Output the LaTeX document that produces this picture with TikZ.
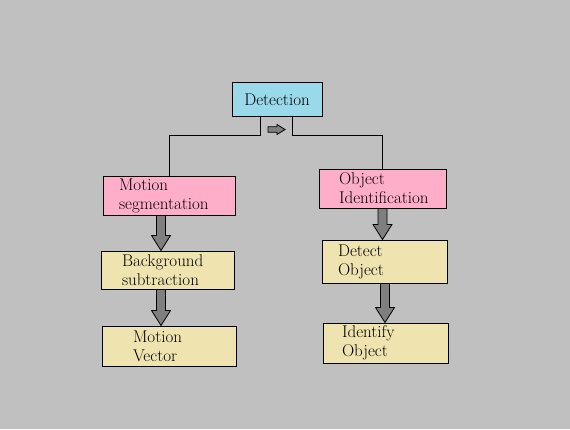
\documentclass[tikz,border=0pt]{standalone}
\usepackage{xcolor}
\usepackage{tikz}
\usetikzlibrary{positioning, calc}
\definecolor{PageGray}{HTML}{C0C0C0}
\definecolor{SkyBlue}{HTML}{99D9EA}
\definecolor{RosePink}{HTML}{FFAEC9}
\definecolor{LightTan}{HTML}{EFE4B0}
\definecolor{ArrowGray}{HTML}{7F7F7F}

\begin{document}
\begin{tikzpicture}[
    x=1pt, y=-1pt,
    font=\fontsize{17}{19}\selectfont,
    top/.style={rectangle, draw=black, fill=SkyBlue, line width=1pt, minimum width=90pt, minimum height=34pt, inner sep=0pt},
    task/.style={rectangle, draw=black, fill=RosePink, line width=1pt, align=left, inner ysep=0pt},
    sub/.style={rectangle, draw=black, fill=LightTan, line width=1pt, align=left, inner ysep=0pt},
    link/.style={draw=black, line width=1pt},
    arrowfill/.style={draw=black, fill=ArrowGray, line width=0.8pt},
    blockarr/.style={arrowfill,
        to path={let \p1=(\tikztostart), \p2=(\tikztotarget) in
            (\x1+#1pt-4.5pt,\y1) -- (\x1+#1pt-4.5pt,\y2+15pt) -- (\x1+#1pt-9.5pt,\y2+15pt) -- (\x1+#1pt,\y2)
            -- (\x1+#1pt+9.5pt,\y2+15pt) -- (\x1+#1pt+4.5pt,\y2+15pt) -- (\x1+#1pt+4.5pt,\y1) -- cycle}},
    blockarr/.default=0
]
    \path[fill=PageGray] (0,0) rectangle (570,429);

    % Top
    \node[top] (det) at (277,99.5) {Detection};

    % Left branch
    \node[task, minimum width=132pt, minimum height=39pt, inner xsep=16pt, text width=100pt] (seg) at (169,195.5) {Motion\\segmentation};
    \node[sub, minimum width=133pt, minimum height=38pt, inner xsep=21pt, text width=91pt] (bgsub) at (167.5,270) {Background\\subtraction};
    \node[sub, minimum width=134pt, minimum height=40pt, inner xsep=31pt, text width=72pt] (vec) at (169,346) {Motion\\Vector};

    % Right branch
    \node[task, minimum width=127pt, minimum height=39pt, inner xsep=20pt, text width=87pt] (ident) at (382.5,188.5) {Object\\Identification};
    \node[sub, minimum width=125pt, minimum height=43pt, inner xsep=16pt, text width=93pt] (detobj) at (384.5,261.5) {Detect\\Object};
    \node[sub, minimum width=125pt, minimum height=40pt, inner xsep=19pt, text width=87pt] (idobj) at (385.5,343) {Identify\\Object};

    % Connections
    \draw[link] (det.south) ++(-17,0) -- ++(0,18) -| (seg.north);
    \draw[link] (det.south) ++(15,0) -- ++(0,18) -| (ident.north);
    \draw[arrowfill, shift={(det.south)}] (-9,9.75) -- (0,9.75) -- (0,7.5) -- (8,12.5) -- (0,17.5) -- (0,15.25) -- (-9,15.25) -- cycle;

    \draw[blockarr=-8] (seg.south) to (bgsub.north);
    \draw[blockarr=-6.5] (bgsub.south) to (vec.north);
    \draw[blockarr] (ident.south) to (detobj.north);
    \draw[blockarr=0.5] (detobj.south) to (idobj.north);
\end{tikzpicture}
\end{document}
